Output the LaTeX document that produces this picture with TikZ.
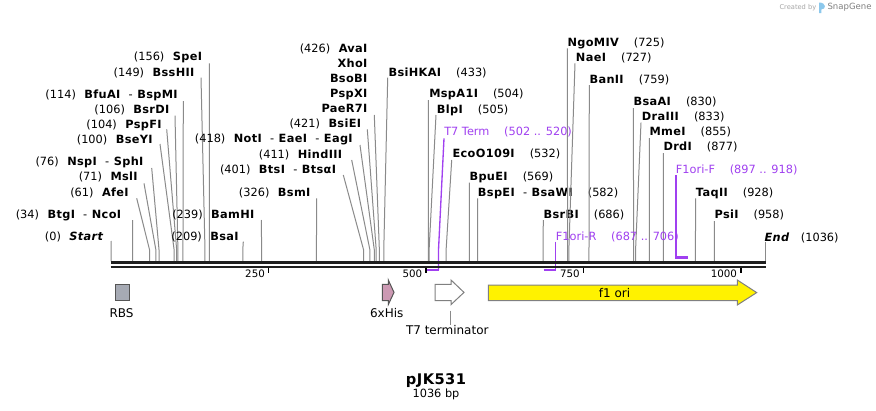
\documentclass[tikz,border=0pt]{standalone}
\usepackage{fontspec}
\setmainfont{DejaVu Sans}[ItalicFont={DejaVu Sans Oblique},BoldFont={DejaVu Sans Bold},BoldItalicFont={DejaVu Sans Bold Oblique},BoldFeatures={LetterSpace=3},BoldItalicFeatures={LetterSpace=3}]
\usepackage{xcolor}
\usepackage{tikz}

\definecolor{primer}{HTML}{A040F0}
\definecolor{sitegray}{HTML}{8A8A8A}
\definecolor{rbsfill}{HTML}{A6AAB4}
\definecolor{hisfill}{HTML}{CC99B3}
\definecolor{featedge}{HTML}{555555}
\definecolor{termedge}{HTML}{808080}
\definecolor{snapblue}{HTML}{8CC8EC}

\newcommand{\enzfont}{\fontsize{8.5pt}{10pt}\selectfont}
\newcommand{\lcut}[2]{(#1)\hspace{0.75em}\textbf{#2}}
\newcommand{\rcut}[2]{\textbf{#1}\hspace{1.3em}(#2)}
\newcommand{\orsep}{\hspace{0.7em}\textmd{-}\hspace{0.4em}}

\tikzset{
  cutlabel/.style={inner sep=0pt, font=\enzfont},
  siteline/.style={draw=sitegray, line width=0.75pt},
  primerlabel/.style={inner sep=0pt, font=\enzfont, text=primer},
  primerline/.style={draw=primer, line width=1pt},
  primerbar/.style={draw=primer, line width=2pt},
  backbone/.style={draw=black!88},
  tickmark/.style={draw=black, line width=1.2pt},
  ticklabel/.style={inner sep=0pt, anchor=east, font=\fontsize{7.7pt}{9pt}\selectfont},
  featlabel/.style={inner sep=0pt, font=\fontsize{9pt}{11pt}\selectfont},
}

\begin{document}
\begin{tikzpicture}[x=0.75pt, y=-0.75pt]
\path[fill=white, use as bounding box] (0,0) rectangle (876,411);

% cut sites: label, line top, site on the map
\foreach \nm/\an/\lx/\ly/\tx/\ty/\bp/\lab in {
  Start/east/104/236.7/111/241/0/{(0)\hspace{0.75em}\textbf{\textit{Start}}},
  BtgI/east/121.7/214/132.7/220/34/{\lcut{34}{BtgI\orsep NcoI}},
  AfeI/east/129.3/192.3/136.7/198.3/61/{\lcut{61}{AfeI}},
  MslI/east/138.3/176.7/144/183.3/71/{\lcut{71}{MslI}},
  NspI/east/144/161.7/151.7/168/76/{\lcut{76}{NspI\orsep SphI}},
  BseYI/east/153.3/139/160/144/100/{\lcut{100}{BseYI}},
  PspFI/east/162.3/124/166.7/129.3/104/{\lcut{104}{PspFI}},
  BsrDI/east/170/109/175/115.7/106/{\lcut{106}{BsrDI}},
  BfuAI/east/178.3/94/183.3/101/114/{\lcut{114}{BfuAI\orsep BspMI}},
  BssHII/east/195/72.3/201/77.7/149/{\lcut{149}{BssHII}},
  SpeI/east/202.7/56.7/209.3/63.3/156/{\lcut{156}{SpeI}},
  BsaI/east/239.3/236.7/243.3/241.7/209/{\lcut{209}{BsaI}},
  BamHI/east/255/214/261.3/220/239/{\lcut{239}{BamHI}},
  BsmI/east/311/192.3/316.7/198.3/326/{\lcut{326}{BsmI}},
  BtsI/east/336.7/169.3/343.3/175/401/{\lcut{401}{BtsI\orsep BtsαI}},
  HindIII/east/342.7/154/351.7/160/411/{\lcut{411}{HindIII}},
  NotI/east/353.3/138.3/360/145/418/{\lcut{418}{NotI\orsep EaeI\orsep EagI}},
  BsiEI/east/361.7/123.3/367.3/129.3/421/{\lcut{421}{BsiEI}},
  PaeR7I/east/368/108.3/374.3/115/426/{\textbf{PaeR7I}},
  BsiHKAI/west/388.3/72.3/387.7/77.7/433/{\rcut{BsiHKAI}{433}},
  MspA1I/west/429/93.3/428.3/100/504/{\rcut{MspA1I}{504}},
  BlpI/west/436.7/109/436/115/505/{\rcut{BlpI}{505}},
  EcoO109I/west/452.3/153.3/451.7/160/532/{\rcut{EcoO109I}{532}},
  BpuEI/west/469.3/176/469.3/182.7/569/{\rcut{BpuEI}{569}},
  BspEI/west/477.7/192.3/477.7/198.3/582/{\rcut{BspEI\orsep BsaWI}{582}},
  BsrBI/west/543.3/214/543.3/220/686/{\rcut{BsrBI}{686}},
  NgoMIV/west/567.3/42.3/567.3/48.3/725/{\rcut{NgoMIV}{725}},
  NaeI/west/575.7/57.3/575/63.3/727/{\rcut{NaeI}{727}},
  BanII/west/589.3/79/589.3/85/759/{\rcut{BanII}{759}},
  BsaAI/west/633.3/101.7/633.3/108/830/{\rcut{BsaAI}{830}},
  DraIII/west/641.7/116.7/641/122.7/833/{\rcut{DraIII}{833}},
  MmeI/west/649.3/131.7/649.3/138/855/{\rcut{MmeI}{855}},
  DrdI/west/663.3/146.7/663.3/153/877/{\rcut{DrdI}{877}},
  TaqII/west/695.7/192.3/695.7/198.3/928/{\rcut{TaqII}{928}},
  PsiI/west/714.3/214/714.3/221/958/{\rcut{PsiI}{958}}} {
  \node[cutlabel, anchor=base \an] (\nm) at (\lx,\ly+4.1) {\lab};
  \coordinate (\nm-top) at (\tx,\ty);
  \coordinate (\nm-bend) at ({111.2+\bp*0.6295},250);
  \coordinate (\nm-site) at ({111.2+\bp*0.6295},261);
  \draw[siteline] (\nm-top) -- (\nm-bend) -- (\nm-site);
}
% names sharing the PaeR7I site
\foreach \nm/\ly/\lab in {AvaI/48.3/{\lcut{426}{AvaI}}, XhoI/63.3/{\textbf{XhoI}},
  BsoBI/78.3/{\textbf{BsoBI}}, PspXI/93.3/{\textbf{PspXI}}}
  \node[cutlabel, anchor=base east] (\nm) at (368,\ly+4.1) {\lab};

\node[cutlabel, anchor=base west] (End) at (764.3,241.1) {\textbf{\textit{End}}\hspace{1em}(1036)};
\coordinate (End-top) at (765,241.7);
\coordinate (End-site) at (765,261);
\draw[siteline] (End-top) -- (End-site);

% primers
\node[primerlabel, anchor=base west] (T7Term) at (444,135.8) {T7 Term\hspace{1.3em}(502 .. 520)};
\coordinate (T7Term-top) at (444,138.3);
\coordinate (T7Term-bend) at (438.5,250);
\coordinate (T7Term-end) at (438.5,270);
\coordinate (T7Term-start) at (427,270);
\draw[primerline] (T7Term-top) -- (T7Term-bend) -- (T7Term-end);
\draw[primerbar] (T7Term-start) -- ([xshift=0.5pt]T7Term-end);

\node[primerlabel, anchor=base west] (F1oriR) at (555.7,240.8) {F1ori-R\hspace{1.3em}(687 .. 706)};
\coordinate (F1oriR-top) at (555.6,241.7);
\coordinate (F1oriR-end) at (555.6,270);
\coordinate (F1oriR-start) at (543.5,270);
\draw[primerline] (F1oriR-top) -- (F1oriR-end);
\draw[primerbar] (F1oriR-start) -- ([xshift=0.5pt]F1oriR-end);

\node[primerlabel, anchor=base west] (F1oriF) at (675.7,173.1) {F1ori-F\hspace{1.3em}(897 .. 918)};
\coordinate (F1oriF-top) at (675.9,175);
\coordinate (F1oriF-start) at (675.9,257.5);
\coordinate (F1oriF-end) at (688,257.5);
\draw[primerline] (F1oriF-top) -- (F1oriF-start);
\draw[primerbar] ([xshift=-0.5pt]F1oriF-start) -- (F1oriF-end);

% sequence
\coordinate (seqL) at (110.5,262.2);
\coordinate (seqR) at (765.5,262.2);
\draw[backbone, line width=2.25pt] (seqL) -- (seqR);
\draw[backbone, line width=1.6pt] ([yshift=-3.3pt]seqL) -- ([yshift=-3.3pt]seqR);

% ruler
\foreach \bp in {250,500,750,1000} {
  \coordinate (tick\bp) at ({111.2+\bp*0.6295},267.5);
  \draw[tickmark] (tick\bp) -- ++(0,5.5);
  \node[ticklabel] (ticklab\bp) at ([xshift=-2.6pt, yshift=-4.8pt]tick\bp) {\bp};
}

% features
\node[draw=featedge, fill=rbsfill, line width=0.75pt, minimum width=10.7pt, minimum height=12.3pt, inner sep=0pt] (RBS) at (122.8,292.5) {};
\node[featlabel] (RBSlab) at (121.5,313.3) {RBS};

\draw[draw=featedge, fill=hisfill, line width=0.75pt] (382.3,284.3) -- (388.3,284.3) -- (388.3,280) -- (394,292.4) -- (388.3,304.6) -- (388.3,300.7) -- (382.3,300.7) -- cycle;
\node[featlabel] (Hislab) at (386.7,313.3) {6xHis};

\draw[draw=termedge, fill=white, line width=0.75pt] (435,284.3) -- (451,284.3) -- (451,280) -- (464,292.4) -- (451,304.6) -- (451,300.7) -- (435,300.7) -- cycle;
\node[featlabel] (T7lab) at (447.3,330) {T7 terminator};
\coordinate (T7-tail) at (450.5,310.7);
\draw[siteline] (T7-tail) -- (T7-tail |- T7lab.north);

\draw[draw=termedge, fill=yellow, line width=0.75pt] (488.3,285) -- (737.3,285) -- (737.3,280) -- (756.7,292.6) -- (737.3,305) -- (737.3,300.7) -- (488.3,300.7) -- cycle;
\node[featlabel] (f1ori) at (614.5,292.8) {f1 ori};

% title
\node[font=\bfseries\fontsize{11pt}{13pt}\selectfont] (title) at (436,380.7) {pJK531};
\node[font=\fontsize{8.5pt}{10pt}\selectfont] (length) at (436,394.3) {1036 bp};

% watermark
\node[anchor=west, inner sep=0pt, text=black!35, font=\fontsize{5pt}{6pt}\selectfont] (madeby) at (779.3,7.3) {Created by};
\fill[snapblue] (819,13) -- (819,2.5) .. controls (826.5,2.5) and (826.5,9.5) .. (821.3,9.5) -- (821.3,13) -- cycle;
\node[anchor=west, inner sep=0pt, text=black!50, font=\fontsize{6.4pt}{7pt}\selectfont] (snapgene) at (827.3,7.3) {SnapGene};
\end{tikzpicture}
\end{document}
